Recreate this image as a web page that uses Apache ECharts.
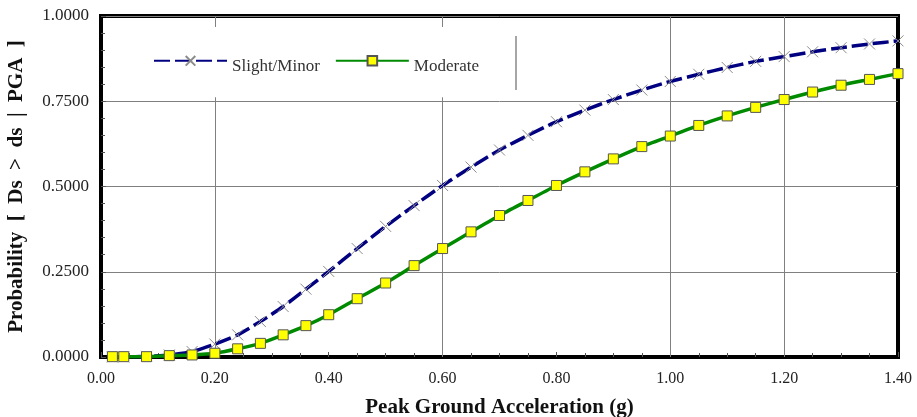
<!DOCTYPE html>
<html>
<head>
<meta charset="utf-8">
<script src="https://cdn.jsdelivr.net/npm/echarts@6/dist/echarts.min.js"></script>
<style>
  html, body { margin: 0; padding: 0; background: #fff; }
  #chart { width: 917px; height: 417px; }
</style>
</head>
<body>
<div id="chart"></div>
<script>
// PGA values (g) where the curves are sampled
const pga = [0.02, 0.04, 0.08, 0.12, 0.16, 0.20, 0.24, 0.28, 0.32, 0.36, 0.40,
  0.45, 0.50, 0.55, 0.60, 0.65, 0.70, 0.75, 0.80, 0.85, 0.90, 0.95, 1.00,
  1.05, 1.10, 1.15, 1.20, 1.25, 1.30, 1.35, 1.40];

// probability of exceeding damage state
const slightMinor = [0.000, 0.000, 0.002, 0.006, 0.016, 0.038, 0.065, 0.104, 0.148, 0.199, 0.251,
  0.318, 0.383, 0.444, 0.503, 0.557, 0.607, 0.650, 0.690, 0.724, 0.755, 0.783, 0.808,
  0.829, 0.849, 0.867, 0.881, 0.895, 0.907, 0.918, 0.927];
const moderate = [0.001, 0.001, 0.001, 0.004, 0.006, 0.011, 0.024, 0.040, 0.065, 0.092, 0.124,
  0.171, 0.217, 0.268, 0.318, 0.367, 0.415, 0.459, 0.503, 0.543, 0.581, 0.617, 0.648,
  0.679, 0.707, 0.732, 0.755, 0.777, 0.797, 0.814, 0.831];

// vertical grid lines in the original only appear at these PGA values
const xGridLines = [0.2, 0.6, 1.0, 1.2];

const serif = 'Liberation Serif';
const sp = '\u00a0\u00a0';

const chart = echarts.init(document.getElementById('chart'));

chart.setOption({
  animation: false,
  grid: {
    left: 101,
    right: 19,
    top: 16,
    bottom: 60,
    outerBoundsMode: 'none',
    show: true,
    borderColor: '#000',
    borderWidth: 4,
    backgroundColor: '#fff'
  },
  legend: {
    data: ['Slight/Minor', 'Moderate'],
    left: 106,
    top: 27,
    padding: [28, 30, 22, 47],
    backgroundColor: '#fff',
    itemWidth: 73,
    itemHeight: 12,
    itemGap: 15,
    formatter: name => '{t|' + name + '}',
    textStyle: {
      fontFamily: serif, fontSize: 17, color: '#333',
      rich: { t: { fontFamily: serif, fontSize: 17, color: '#333', padding: [12, 0, 0, 0] } }
    }
  },
  graphic: [{
    type: 'line',
    shape: { x1: 516, y1: 36, x2: 516, y2: 90 },
    style: { stroke: '#888', lineWidth: 1.5 },
    z: 10
  }],
  xAxis: {
    type: 'value',
    min: 0,
    max: 1.4,
    interval: 0.2,
    name: 'Peak Ground Acceleration (g)',
    nameLocation: 'middle',
    nameGap: 40,
    nameTextStyle: { fontFamily: serif, fontSize: 21, fontWeight: 'bold', color: '#111' },
    axisLine: { lineStyle: { color: '#000', width: 4 } },
    axisTick: { inside: true, length: 5, lineStyle: { color: '#555' } },
    minorTick: { show: true, splitNumber: 4, length: 4, lineStyle: { color: '#555' } },
    splitLine: { show: false },
    axisLabel: {
      fontFamily: serif, fontSize: 16, color: '#222', margin: 14,
      formatter: v => v.toFixed(2)
    }
  },
  yAxis: {
    type: 'value',
    min: 0,
    max: 1,
    interval: 0.25,
    name: 'Probability' + sp + '[' + sp + 'Ds' + sp + '>' + sp + 'ds' + sp + '|' + sp + 'PGA' + sp + ']',
    nameLocation: 'middle',
    nameGap: 74,
    nameTextStyle: { fontFamily: serif, fontSize: 21, fontWeight: 'bold', color: '#111' },
    axisLine: { lineStyle: { color: '#000', width: 4 } },
    axisTick: { inside: true, length: 5, lineStyle: { color: '#555' } },
    minorTick: { show: true, splitNumber: 5, length: 4, lineStyle: { color: '#555' } },
    splitLine: { show: true, lineStyle: { color: '#808080', width: 1 } },
    axisLabel: {
      fontFamily: serif, fontSize: 17, color: '#222', margin: 12,
      formatter: v => v.toFixed(4)
    }
  },
  series: [
    {
      name: 'grid',
      type: 'line',
      data: [],
      silent: true,
      markLine: {
        z: 1,
        silent: true,
        symbol: 'none',
        label: { show: false },
        lineStyle: { color: '#808080', type: 'solid', width: 1 },
        data: xGridLines.map(v => ({ xAxis: v }))
      }
    },
    {
      name: 'Slight/Minor',
      type: 'line',
      data: pga.map((x, i) => [x, slightMinor[i]]),
      smooth: 0.2,
      symbol: 'path://M0,0L10,10M10,0L0,10',
      symbolSize: 11,
      itemStyle: { color: 'transparent', borderColor: '#8c8c8c', borderWidth: 1 },
      lineStyle: { color: '#000080', width: 3.5, type: [16, 5] },
      z: 3
    },
    {
      name: 'Moderate',
      type: 'line',
      data: pga.map((x, i) => [x, moderate[i]]),
      smooth: 0.2,
      symbol: 'rect',
      symbolSize: 10,
      itemStyle: { color: '#ffff00', borderColor: '#555', borderWidth: 1 },
      lineStyle: { color: '#008a00', width: 3.5 },
      z: 4
    }
  ]
});
</script>
</body>
</html>
